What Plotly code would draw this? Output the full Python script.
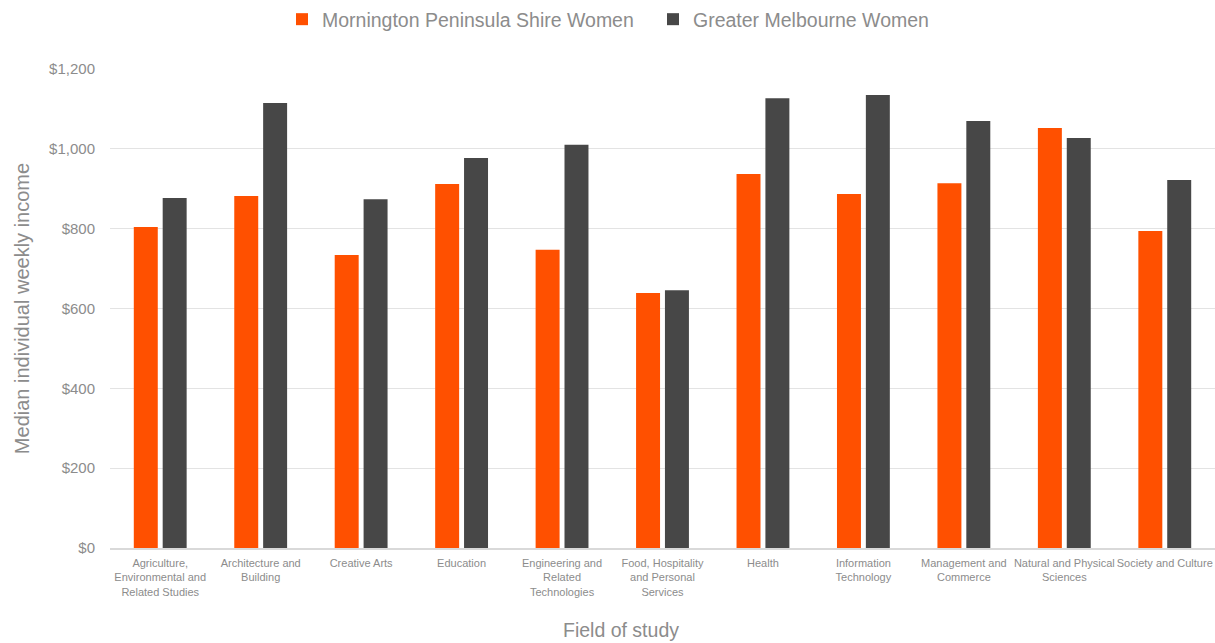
import plotly.graph_objects as go

# Field of study categories (tick labels wrapped onto lines)
fields = [
    "Agriculture,<br>Environmental and<br>Related Studies",
    "Architecture and<br>Building",
    "Creative Arts",
    "Education",
    "Engineering and<br>Related<br>Technologies",
    "Food, Hospitality<br>and Personal<br>Services",
    "Health",
    "Information<br>Technology",
    "Management and<br>Commerce",
    "Natural and Physical<br>Sciences",
    "Society and Culture",
]

# Median individual weekly income ($)
mornington_women = [804, 882, 734, 912, 747, 639, 937, 887, 914, 1052, 794]
melbourne_women = [877, 1115, 874, 977, 1010, 646, 1127, 1135, 1070, 1027, 922]

y_ticks = [0, 200, 400, 600, 800, 1000, 1200]
y_tick_text = ["$0", "$200", "$400", "$600", "$800", "$1,000", "$1,200"]

ORANGE = "#FF5000"
DARK = "#474747"
GREY_TEXT = "#8C8C8C"
FONT = "Liberation Sans"

fig = go.Figure()
fig.add_trace(go.Bar(name="Mornington Peninsula Shire Women", x=fields,
                     y=mornington_women, marker_color=ORANGE,
                     marker_line_width=0))
fig.add_trace(go.Bar(name="Greater Melbourne Women", x=fields,
                     y=melbourne_women, marker_color=DARK,
                     marker_line_width=0))

fig.update_layout(
    width=1215, height=643,
    margin=dict(l=110, r=0, t=69, b=95),
    paper_bgcolor="white", plot_bgcolor="white",
    barmode="group", bargap=0.425, bargroupgap=0.17,
    font=dict(family=FONT, color=GREY_TEXT),
    legend=dict(orientation="h", xref="container", yref="container",
                x=282 / 1215, y=1.0, xanchor="left", yanchor="top",
                entrywidth=326, entrywidthmode="pixels",
                font=dict(size=19.5, color=GREY_TEXT, family=FONT),
                itemsizing="constant"),
    xaxis=dict(
        showgrid=False, showline=True, linecolor="#D9D9D9", linewidth=1.5,
        tickfont=dict(size=11, color=GREY_TEXT, family=FONT),
        ticks="", ticklabelstandoff=4, automargin=False,
    ),
    yaxis=dict(
        range=[0, 1200], tickvals=y_ticks, ticktext=y_tick_text,
        showgrid=True, gridcolor="#E3E3E3", gridwidth=1,
        zeroline=False, showline=False, ticks="",
        ticklabelstandoff=14,
        tickfont=dict(size=15, color=GREY_TEXT, family=FONT),
        automargin=False,
        title=dict(text="Median individual weekly income", standoff=14,
                   font=dict(size=20, color=GREY_TEXT, family=FONT)),
    ),
    annotations=[dict(
        text="Field of study", xref="paper", yref="paper",
        x=(621 - 110) / 1105, y=(548 - 630) / 479,
        xanchor="center", yanchor="middle", showarrow=False,
        font=dict(size=19.5, color=GREY_TEXT, family=FONT),
    )],
)

fig.write_html("out.html")
